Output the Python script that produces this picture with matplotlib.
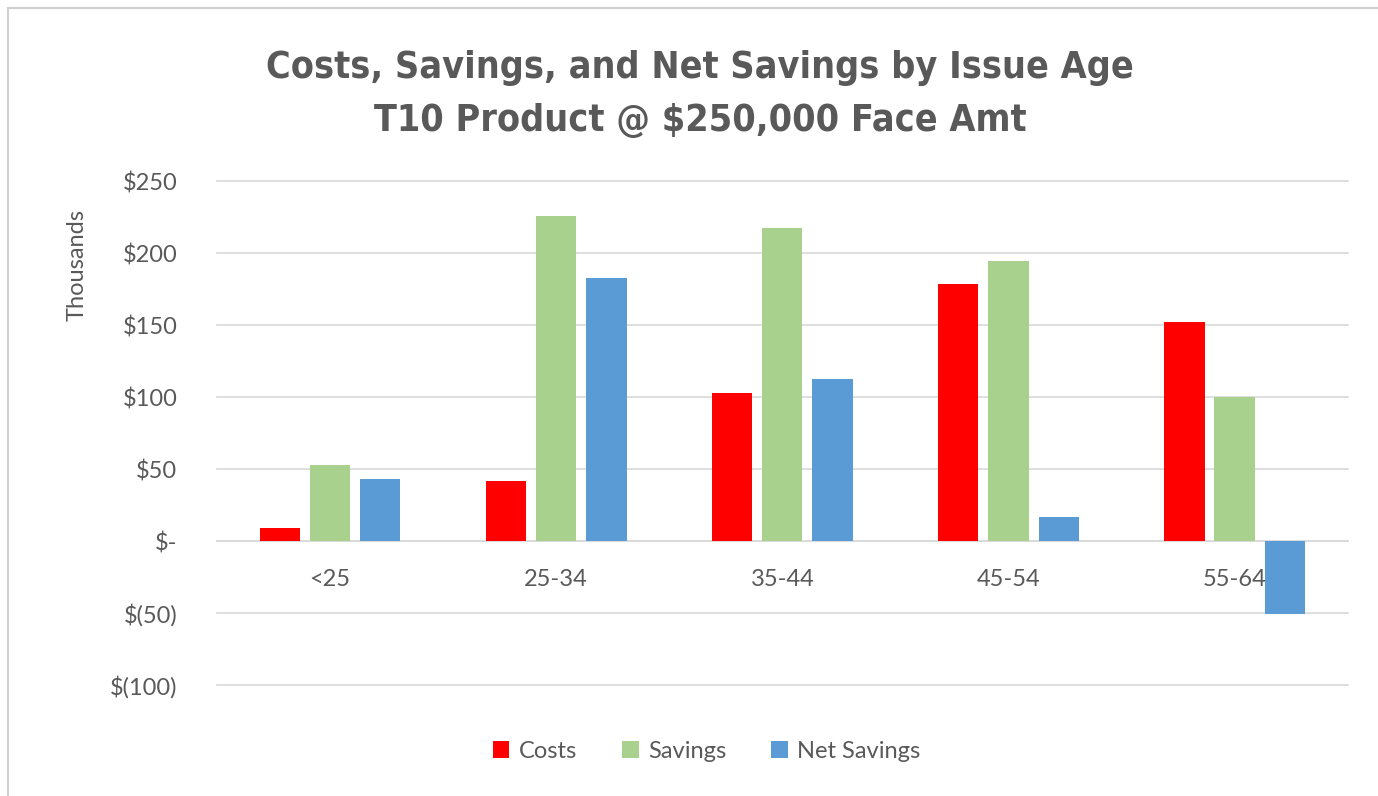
import numpy as np
import matplotlib
matplotlib.use("Agg")
import matplotlib.pyplot as plt
from matplotlib.patches import Rectangle

# values in thousands of dollars
ages = ['<25', '25-34', '35-44', '45-54', '55-64']
costs = [9, 42, 103, 179, 152]
savings = [53, 226, 218, 195, 100]
net_savings = [43, 183, 113, 17, -51]

series_names = ['Costs', 'Savings', 'Net Savings']
series_colors = ['#FF0000', '#A9D18E', '#5B9BD5']
yticks = [-100, -50, 0, 50, 100, 150, 200, 250]
ytick_labels = ['$(100)', '$(50)', '$-', '$50', '$100', '$150', '$200', '$250']

txt = '#595959'
plt.rcParams['font.family'] = ['Lato', 'DejaVu Sans']

fig = plt.figure(figsize=(13.78, 7.96), dpi=100)
ax = fig.add_axes([0.1575, 0.1395, 0.8205, 0.6325])

x = np.arange(len(ages))
w = 0.178
off = 0.222
for i, vals in enumerate([costs, savings, net_savings]):
    ax.bar(x + (i - 1) * off, vals, width=w, color=series_colors[i],
           label=series_names[i], zorder=3)

ax.set_xlim(-0.5, len(ages) - 0.5)
ax.set_ylim(-100, 250)
ax.set_yticks(yticks)
ax.set_yticklabels(ytick_labels)
ax.set_axisbelow(True)
ax.yaxis.grid(True, color='#D9D9D9', linewidth=1.2)
for gl in ax.get_ygridlines():
    gl.set_clip_on(False)

for s in ['top', 'right', 'left']:
    ax.spines[s].set_visible(False)
ax.spines['bottom'].set_position(('data', 0))
ax.spines['bottom'].set_color('#D9D9D9')
ax.spines['bottom'].set_linewidth(1.2)
ax.spines['bottom'].set_zorder(2)

ax.set_xticks(x)
ax.set_xticklabels(ages)
ax.tick_params(axis='x', length=0, pad=20, labelsize=17, labelcolor=txt)
ax.tick_params(axis='y', length=0, pad=0, labelsize=17, labelcolor=txt)
for lab in ax.get_yticklabels():
    lab.set_horizontalalignment('right')
    lab.set_x(-0.035)

fig.text(0.056, 0.667, 'Thousands', rotation=90, ha='center', va='center',
         fontsize=17, color=txt)

title_font = dict(ha='center', va='center', fontsize=27, fontweight='bold',
                  color=txt, family=['DejaVu Sans'], fontstretch='condensed')
fig.text(0.508, 0.914, 'Costs, Savings, and Net Savings by Issue Age', **title_font)
fig.text(0.508, 0.848, 'T10 Product @ $250,000 Face Amt', **title_font)

ax.legend(loc='center', bbox_to_anchor=(0.433, -0.132), ncol=3, frameon=False,
          fontsize=17, labelcolor=txt, handlelength=0.7, handleheight=0.7,
          handletextpad=0.4, columnspacing=1.9)

# light chart border
fig.patches.append(Rectangle((0.006, -0.01), 1.2, 1.0, transform=fig.transFigure,
                             fill=False, edgecolor='#D0D0D0', linewidth=1.5))

fig.savefig('out.png', dpi=100)
